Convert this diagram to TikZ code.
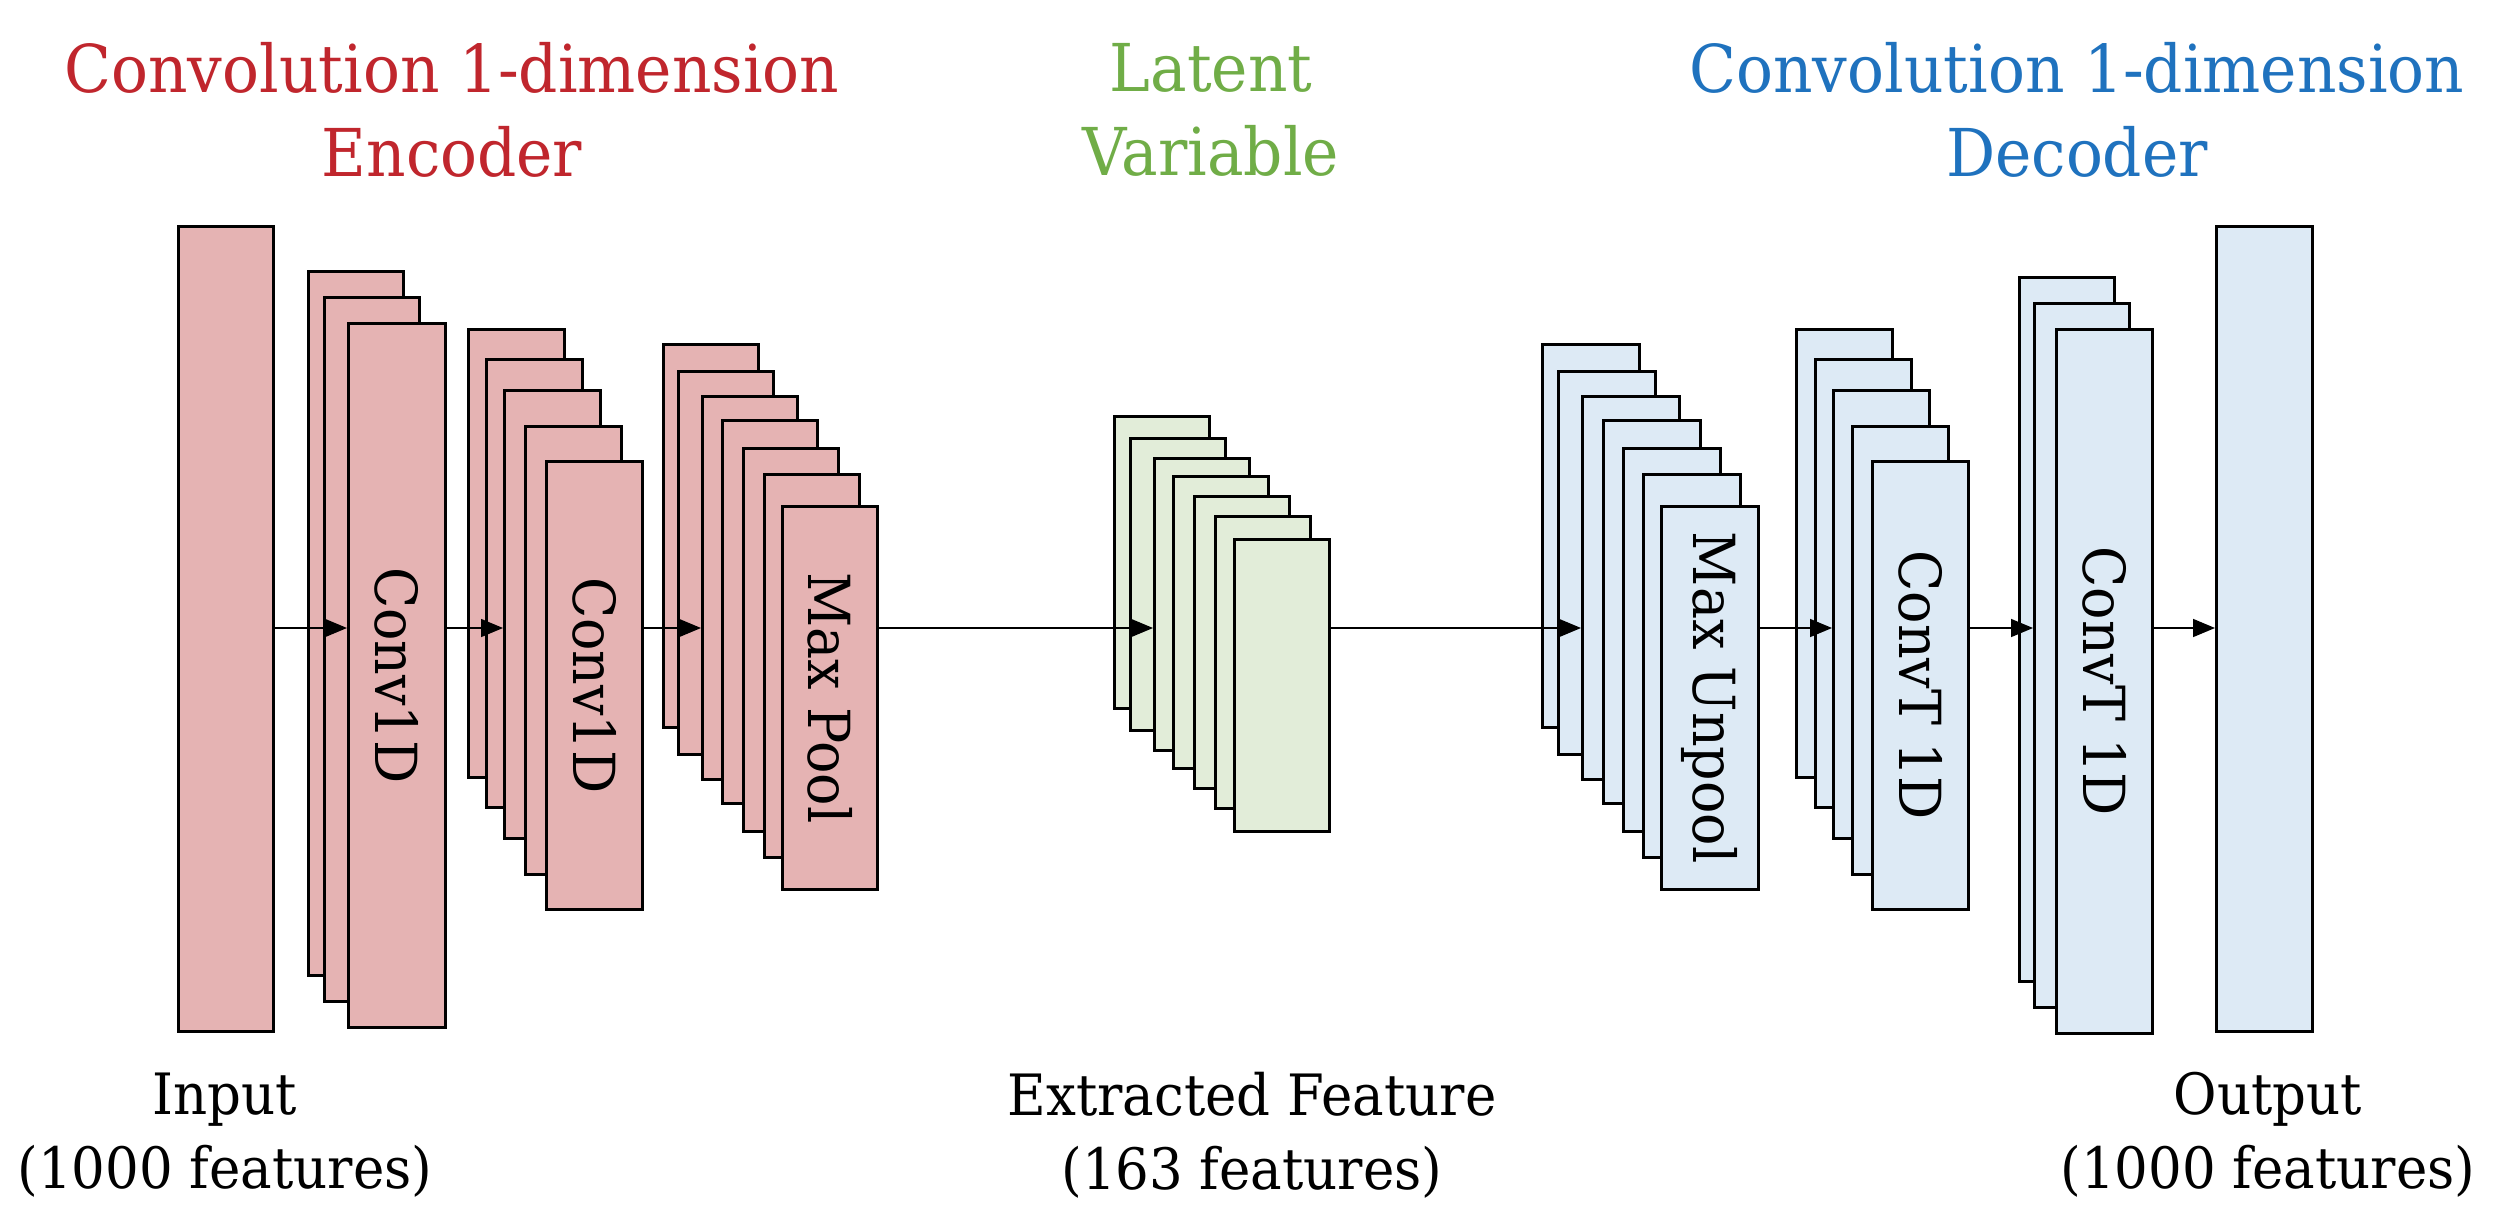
\documentclass[tikz,border=0pt]{standalone}
\usepackage{fontspec}
\setmainfont[FakeStretch=0.93]{DejaVu Serif}
\usetikzlibrary{arrows.meta}
\definecolor{rfill}{HTML}{E5B3B3}
\definecolor{gfill}{HTML}{E2EDD9}
\definecolor{bfill}{HTML}{DDEAF5}
\definecolor{rtext}{HTML}{C0262D}
\definecolor{gtext}{HTML}{70AD47}
\definecolor{btext}{HTML}{1F72BE}
\begin{document}
\begin{tikzpicture}[x=1pt,y=-1pt,
  lay/.style={draw=black,line width=2.6pt,anchor=north west,inner sep=0pt,minimum width=#1},
  lbl/.style={rotate=-90,font=\fontsize{58}{64}\selectfont},
  ttl/.style={align=center,font=\fontsize{66}{84}\selectfont},
  captxt/.style={align=center,font=\fontsize{57}{74}\selectfont},
  arr/.style={line width=1.6pt,-{Triangle[length=22pt,width=18pt]}}]
\useasboundingbox (0,0) rectangle (2505,1223);
% encoder
\node[lay=95pt,fill=rfill,minimum height=805pt] (inp) at (177,225) {};
\node[lay=95pt,fill=rfill,minimum height=704pt] (c1a) at (307,270) {};
\node[lay=95pt,fill=rfill,minimum height=704pt] (c1b) at (323,296) {};
\node[lay=97pt,fill=rfill,minimum height=704pt] (c1c) at (347,322) {};
\node[lbl] at (c1c.center) {Conv1D};
\node[lay=96pt,fill=rfill,minimum height=448pt] (c2a) at (467,328) {};
\node[lay=96pt,fill=rfill,minimum height=448pt] (c2b) at (485,358) {};
\node[lay=96pt,fill=rfill,minimum height=448pt] (c2c) at (503,389) {};
\node[lay=96pt,fill=rfill,minimum height=448pt] (c2d) at (524,425) {};
\node[lay=96pt,fill=rfill,minimum height=448pt] (c2e) at (545,460) {};
\node[lbl] at (c2e.center) {Conv1D};
\node[lay=95pt,fill=rfill,minimum height=383pt] (mpa) at (662,343) {};
\node[lay=95pt,fill=rfill,minimum height=383pt] (mpb) at (677,370) {};
\node[lay=95pt,fill=rfill,minimum height=383pt] (mpc) at (701,395) {};
\node[lay=95pt,fill=rfill,minimum height=383pt] (mpd) at (721,419) {};
\node[lay=95pt,fill=rfill,minimum height=383pt] (mpe) at (742,447) {};
\node[lay=95pt,fill=rfill,minimum height=383pt] (mpf) at (763,473) {};
\node[lay=95pt,fill=rfill,minimum height=383pt] (mpg) at (781,505) {};
\node[lbl] at (mpg.center) {Max Pool};
% latent
\node[lay=95pt,fill=gfill,minimum height=292pt] (ga) at (1113,415) {};
\node[lay=95pt,fill=gfill,minimum height=292pt] (gb) at (1129,437) {};
\node[lay=95pt,fill=gfill,minimum height=292pt] (gc) at (1153,457) {};
\node[lay=95pt,fill=gfill,minimum height=292pt] (gd) at (1172,475) {};
\node[lay=95pt,fill=gfill,minimum height=292pt] (ge) at (1193,495) {};
\node[lay=95pt,fill=gfill,minimum height=292pt] (gf) at (1214,515) {};
\node[lay=95pt,fill=gfill,minimum height=292pt] (gg) at (1233,538) {};
% decoder
\node[lay=97pt,fill=bfill,minimum height=383pt] (upa) at (1541,343) {};
\node[lay=97pt,fill=bfill,minimum height=383pt] (upb) at (1557,370) {};
\node[lay=97pt,fill=bfill,minimum height=383pt] (upc) at (1581,395) {};
\node[lay=97pt,fill=bfill,minimum height=383pt] (upd) at (1602,419) {};
\node[lay=97pt,fill=bfill,minimum height=383pt] (upe) at (1622,447) {};
\node[lay=97pt,fill=bfill,minimum height=383pt] (upf) at (1642,473) {};
\node[lay=97pt,fill=bfill,minimum height=383pt] (upg) at (1660,505) {};
\node[lbl] at (upg.center) {Max Unpool};
\node[lay=96pt,fill=bfill,minimum height=448pt] (t1a) at (1795,328) {};
\node[lay=96pt,fill=bfill,minimum height=448pt] (t1b) at (1814,358) {};
\node[lay=96pt,fill=bfill,minimum height=448pt] (t1c) at (1832,389) {};
\node[lay=96pt,fill=bfill,minimum height=448pt] (t1d) at (1851,425) {};
\node[lay=96pt,fill=bfill,minimum height=448pt] (t1e) at (1871,460) {};
\node[lbl] at (t1e.center) {ConvT 1D};
\node[lay=95pt,fill=bfill,minimum height=704pt] (t2a) at (2018,276) {};
\node[lay=95pt,fill=bfill,minimum height=704pt] (t2b) at (2033,302) {};
\node[lay=96pt,fill=bfill,minimum height=704pt] (t2c) at (2055,328) {};
\node[lbl] at (t2c.center) {ConvT 1D};
\node[lay=96pt,fill=bfill,minimum height=805pt] (out) at (2215,225) {};
% arrows
\coordinate (ay) at (0,628);
\draw[arr] (inp.east |- ay) -- (c1c.west |- ay);
\draw[arr] (c1c.east |- ay) -- (c2c.west |- ay);
\draw[arr] (c2e.east |- ay) -- (mpc.west |- ay);
\draw[arr] (mpg.east |- ay) -- (gc.west |- ay);
\draw[arr] (gg.east |- ay) -- (upc.west |- ay);
\draw[arr] (upg.east |- ay) -- (t1c.west |- ay);
\draw[arr] (t1e.east |- ay) -- (t2b.west |- ay);
\draw[arr] (t2c.east |- ay) -- (out.west |- ay);
% titles
\node[ttl,text=rtext] (tenc) at (452,110) {Convolution 1-dimension\\Encoder};
\node[ttl,text=gtext] (tlat) at (1211,110) {Latent\\Variable};
\node[ttl,text=btext] (tdec) at (2077,110) {Convolution 1-dimension\\Decoder};
% captions
\node[captxt] (cin) at (225,1135) {Input\\(1000 features)};
\node[captxt] (cex) at (1252,1135) {Extracted Feature\\(163 features)};
\node[captxt] (cout) at (2268,1135) {Output\\(1000 features)};
\end{tikzpicture}
\end{document}
